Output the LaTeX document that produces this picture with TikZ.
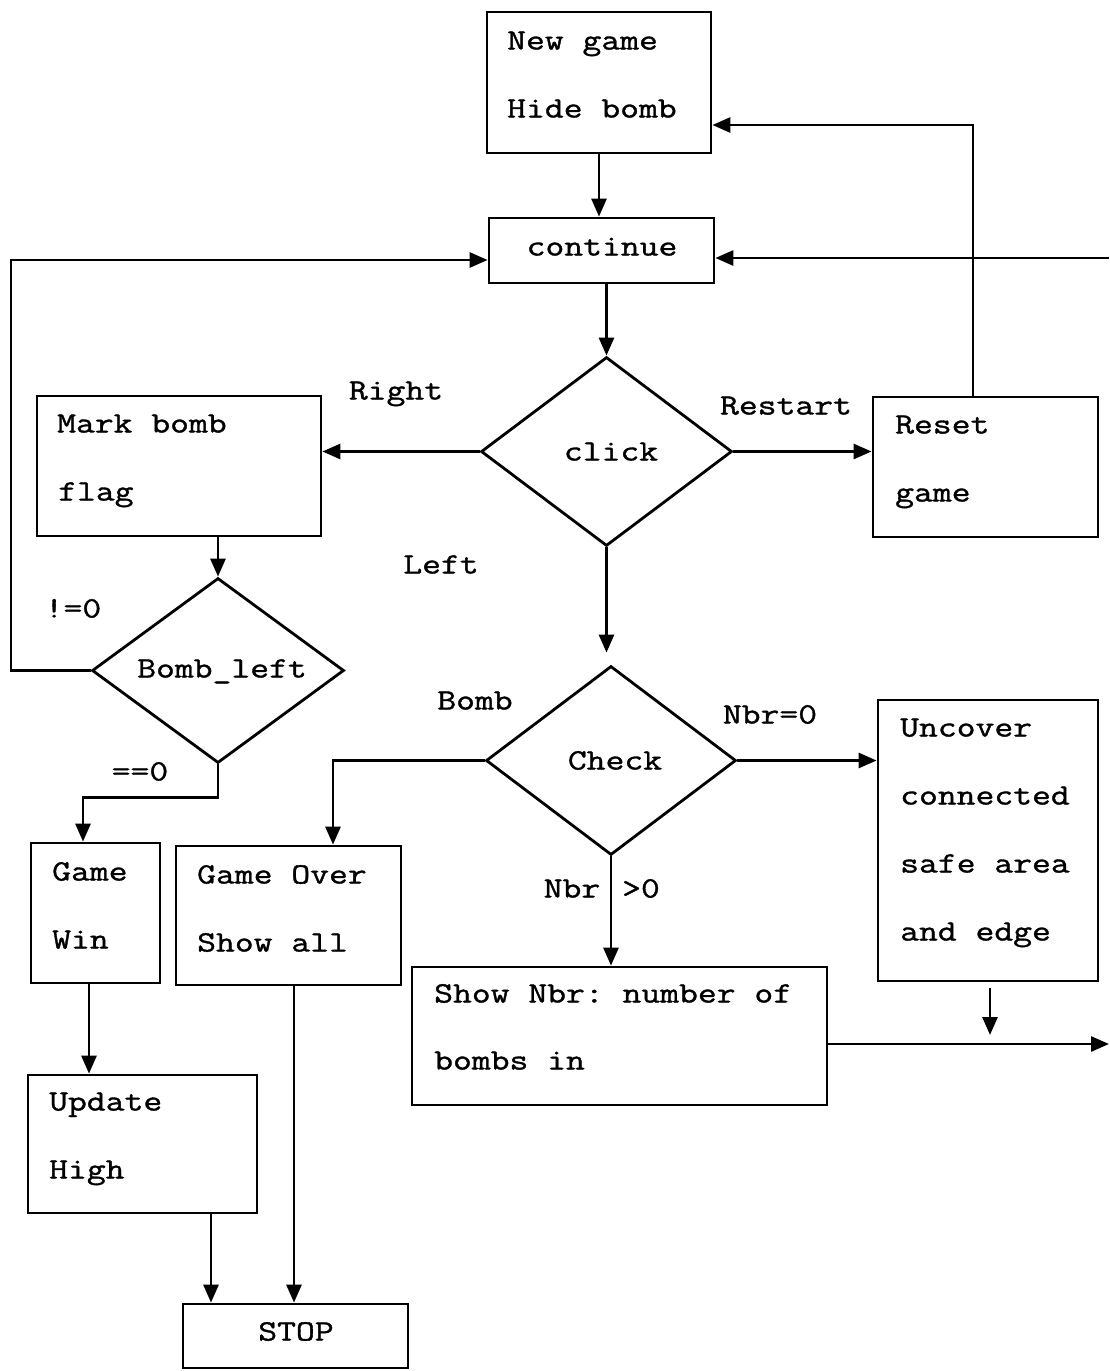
\documentclass[tikz,border=0pt]{standalone}
\usepackage{fontspec}
\setmonofont{Latin Modern Mono}[FakeStretch=1.24,FakeBold=1.2]
\usetikzlibrary{arrows.meta,shapes.geometric}
\begin{document}
\begin{tikzpicture}[x=1pt,y=-1pt,
  font=\ttfamily\fontsize{29.5}{36}\selectfont,
  box/.style={draw, line width=2.8pt, inner sep=0pt},
  dia/.style={draw, diamond, line width=2.8pt, inner sep=0pt},
  txt/.style={inner sep=0pt, text height=21pt, text depth=6pt},
  ltxt/.style={txt, anchor=west},
  conn/.style={line width=2.8pt},
  arr/.style={conn, -{Triangle[length=18pt,width=15pt]}}]
\useasboundingbox (0,0) rectangle (1109,1371);

% boxes
\node[box, minimum width=224pt, minimum height=141pt] (newgame) at (599,82.5) {};
\node[box, minimum width=225pt, minimum height=65pt] (cont) at (601.5,250.5) {};
\node[box, minimum width=284pt, minimum height=140pt] (markbomb) at (179,466) {};
\node[box, minimum width=225pt, minimum height=140pt] (reset) at (985.5,467) {};
\node[box, minimum width=220pt, minimum height=281pt] (uncover) at (988,840.5) {};
\node[box, minimum width=415pt, minimum height=138pt] (shownbr) at (619.5,1036) {};
\node[box, minimum width=129pt, minimum height=140pt] (win) at (95.5,913) {};
\node[box, minimum width=225pt, minimum height=139pt] (over) at (288.5,915.5) {};
\node[box, minimum width=229pt, minimum height=138pt] (update) at (142.5,1144) {};
\node[box, minimum width=225pt, minimum height=64pt] (stop) at (295.5,1336) {};

% diamonds
\node[dia, minimum width=251pt, minimum height=189pt] (click) at (606.5,451.5) {};
\node[dia, minimum width=252pt, minimum height=185pt] (bleft) at (218,670.5) {};
\node[dia, minimum width=250pt, minimum height=189pt] (check) at (611,760.5) {};
\node[txt] (t-click) at (611,453) {click};
\node[txt] (t-bleft) at (222,670) {Bomb\_left};
\node[txt] (t-check) at (615,762) {Check};

% box texts
\node[ltxt] (t-ng1) at (507,42) {New game};
\node[ltxt] (t-ng2) at (507,110) {Hide bomb};
\node[txt] (t-cont) at (602,248) {continue};
\node[ltxt] (t-mb1) at (57,425) {Mark bomb};
\node[ltxt] (t-mb2) at (58,493) {flag};
\node[ltxt] (t-rs1) at (895,426) {Reset};
\node[ltxt] (t-rs2) at (895,494) {game};
\node[ltxt] (t-uc1) at (900,729) {Uncover};
\node[ltxt] (t-uc2) at (900,797) {connected};
\node[ltxt] (t-uc3) at (900,865) {safe area};
\node[ltxt] (t-uc4) at (900,933) {and edge};
\node[ltxt] (t-sn1) at (434,995) {Show Nbr: number of};
\node[ltxt] (t-sn2) at (434,1062) {bombs in};
\node[ltxt] (t-w1) at (52,873) {Game};
\node[ltxt] (t-w2) at (52,941) {Win};
\node[ltxt] (t-o1) at (197,876) {Game Over};
\node[ltxt] (t-o2) at (197,944) {Show all};
\node[ltxt] (t-u1) at (49,1103) {Update};
\node[ltxt] (t-u2) at (49,1171) {High};
\node[txt] (t-stop) at (296,1333) {STOP};

% edge labels
\node[txt] (l-right) at (396,392) {Right};
\node[txt] (l-restart) at (786,407) {Restart};
\node[txt] (l-left) at (441,566) {Left};
\node[txt] (l-ne) at (73,610) {!=0};
\node[txt] (l-eq) at (140,773) {==0};
\node[txt] (l-bomb) at (475,702) {Bomb};
\node[txt] (l-nbr0) at (770,716) {Nbr=0};
\node[txt] (l-nbr) at (572,890) {Nbr};
\node[txt] (l-gt) at (641,890) {>0};

% free ends
\coordinate (rin) at (1109,258);
\coordinate (rout) at (1109,1044);
\coordinate (lft) at (11,260);
\coordinate (udown) at (990,1035);

% connectors
\draw[arr] (newgame.south) -- (newgame.south |- cont.north);
\draw[arr] (click.north |- cont.south) -- (click.north);
\draw[arr] (click.west) -- (click.west -| markbomb.east);
\draw[arr] (click.east) -- (click.east -| reset.west);
\draw[arr] ([xshift=-12.5pt]reset.north) |- ([yshift=-42.5pt]newgame.east);
\draw[arr] (rin) -- (rin -| cont.east);
\draw[arr] (markbomb.south -| bleft.north) -- (bleft.north);
\draw[arr] (bleft.west) -| (lft) -- (lft -| cont.west);
\draw[arr] (bleft.south) -- ++(0,33) -| ([xshift=-12.5pt]win.north);
\draw[arr, shorten >=12pt] (click.south) -- (click.south |- check.north);
\draw[arr] (check.west) -| ([xshift=44.5pt]over.north);
\draw[arr] (check.east) -- (check.east -| uncover.west);
\draw[arr] (check.south) -- (check.south |- shownbr.north);
\draw[arr, shorten <=6pt] (uncover.south -| udown) -- (udown);
\draw[arr] (shownbr.east |- rout) -- (rout);
\draw[arr] ([xshift=-6.5pt]win.south) -- ([xshift=-6.5pt]win.south |- update.north);
\draw[arr] ([xshift=68.5pt]update.south) -- ([xshift=68.5pt]update.south |- stop.north);
\draw[arr] ([xshift=5.5pt]over.south) -- ([xshift=5.5pt]over.south |- stop.north);
\end{tikzpicture}
\end{document}
